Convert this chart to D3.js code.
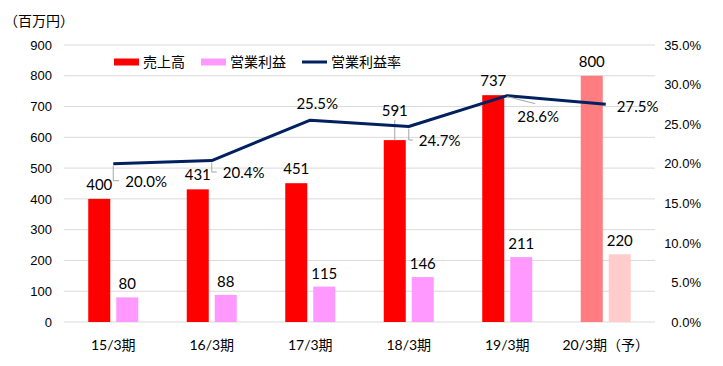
<!DOCTYPE html>
<html lang="ja">
<head>
  <meta charset="UTF-8">
  <title>売上高・営業利益</title>
  <script src="https://d3js.org/d3.v7.min.js"></script>
  <style>
    body {
      margin: 0;
      background: #fff;
      font-family: "Lato", "Noto Sans CJK JP", sans-serif;
    }
    .grid line { stroke: #d9d9d9; stroke-width: 1; }
    .tick-label { font-size: 13px; fill: #000; }
    .cat-label { font-size: 14px; fill: #000; }
    .data-label { font-size: 15px; fill: #000; }
    .leader { stroke: #a6a6a6; stroke-width: 1; fill: none; }
  </style>
</head>
<body>
  <svg id="chart" width="723" height="366"></svg>
  <script>
    const categories = ["15/3期", "16/3期", "17/3期", "18/3期", "19/3期", "20/3期（予）"];
    const sales = [400, 431, 451, 591, 737, 800];
    const profit = [80, 88, 115, 146, 211, 220];
    const margin = [0.200, 0.204, 0.255, 0.247, 0.286, 0.275];
    const leftTicks = [0, 100, 200, 300, 400, 500, 600, 700, 800, 900];
    const rightTicks = [0, 0.05, 0.10, 0.15, 0.20, 0.25, 0.30, 0.35];
    const forecastIndex = 5;

    // label placement tweaks (as laid out in the original)
    const pctLabelOffset = [
      { dx: 12, dy: 18, anchor: "start", leader: "elbow" },
      { dx: 11, dy: 12.5, anchor: "start", leader: "elbow" },
      { dx: 7, dy: -16, anchor: "middle", leader: null },
      { dx: 10, dy: 14.5, anchor: "start", leader: "elbow" },
      { dx: 10, dy: 21, anchor: "start", leader: "diag" },
      { dx: 11, dy: 2.5, anchor: "start", leader: null }
    ];
    const salesLabelLift = [0, 0, 0, 15, 0, 0];

    const colors = {
      sales: "#ff0000",
      profit: "#ff99ff",
      salesF: "#ff7c80",
      profitF: "#ffcccc",
      line: "#002060"
    };

    const svg = d3.select("#chart");
    const plot = { left: 64, right: 655, top: 45, bottom: 322 };

    const x = d3.scaleBand().domain(categories).range([plot.left, plot.right]);
    const y = d3.scaleLinear().domain([0, 900]).range([plot.bottom, plot.top]);
    const y2 = d3.scaleLinear().domain([0, 0.35]).range([plot.bottom, plot.top]);
    const cx = c => x(c) + x.bandwidth() / 2;
    const barW = 22;

    // gridlines
    svg.append("g").attr("class", "grid")
      .selectAll("line").data(leftTicks).join("line")
      .attr("x1", plot.left).attr("x2", plot.right)
      .attr("y1", d => y(d)).attr("y2", d => y(d));

    // left axis
    const leftAxis = svg.append("g")
      .attr("transform", `translate(${plot.left - 12},0)`)
      .call(d3.axisLeft(y).tickValues(leftTicks).tickSize(0).tickPadding(0));
    leftAxis.select(".domain").remove();
    leftAxis.selectAll("text").attr("class", "tick-label").attr("font-family", null);

    // right axis
    const rightAxis = svg.append("g")
      .attr("transform", `translate(701,0)`)
      .call(d3.axisLeft(y2).tickValues(rightTicks).tickFormat(d3.format(".1%")).tickSize(0).tickPadding(0));
    rightAxis.select(".domain").remove();
    rightAxis.selectAll("text").attr("class", "tick-label").attr("font-family", null);

    // unit
    svg.append("text").attr("x", 4).attr("y", 26)
      .attr("class", "cat-label").text("（百万円）");

    // bars
    svg.append("g").selectAll("rect").data(categories).join("rect")
      .attr("x", d => cx(d) - 25)
      .attr("y", (d, i) => y(sales[i]))
      .attr("width", barW)
      .attr("height", (d, i) => y(0) - y(sales[i]))
      .attr("fill", (d, i) => i === forecastIndex ? colors.salesF : colors.sales);

    svg.append("g").selectAll("rect").data(categories).join("rect")
      .attr("x", d => cx(d) + 3)
      .attr("y", (d, i) => y(profit[i]))
      .attr("width", barW)
      .attr("height", (d, i) => y(0) - y(profit[i]))
      .attr("fill", (d, i) => i === forecastIndex ? colors.profitF : colors.profit);

    // bar labels
    const lblG = svg.append("g");
    categories.forEach((c, i) => {
      const bx = cx(c) - 25 + barW / 2;
      const top = y(sales[i]);
      const ly = top - 9 - salesLabelLift[i];
      if (salesLabelLift[i] > 0) {
        lblG.append("line").attr("class", "leader")
          .attr("x1", bx).attr("x2", bx).attr("y1", ly + 4).attr("y2", top);
      }
      lblG.append("text").attr("class", "data-label")
        .attr("x", bx).attr("y", ly).attr("text-anchor", "middle").text(sales[i]);

      const px = cx(c) + 3 + barW / 2;
      lblG.append("text").attr("class", "data-label")
        .attr("x", px).attr("y", y(profit[i]) - 8).attr("text-anchor", "middle").text(profit[i]);
    });

    // margin line
    const line = d3.line().x((d, i) => cx(categories[i])).y(d => y2(d));
    svg.append("path").datum(margin)
      .attr("d", line)
      .attr("fill", "none")
      .attr("stroke", colors.line)
      .attr("stroke-width", 3)
      .attr("stroke-linejoin", "round");

    // margin labels
    const fmt = d3.format(".1%");
    margin.forEach((v, i) => {
      const px = cx(categories[i]);
      const py = y2(v);
      const o = pctLabelOffset[i];
      if (o.leader === "elbow") {
        svg.append("path").attr("class", "leader")
          .attr("d", `M${px},${py + 2}V${py + o.dy - 1}H${px + o.dx - 6}`);
      } else if (o.leader === "diag") {
        svg.append("path").attr("class", "leader")
          .attr("d", `M${px},${py + 1}L${px + 28},${py + 8}`);
      }
      svg.append("text").attr("class", "data-label")
        .attr("x", px + o.dx).attr("y", py + o.dy)
        .attr("dy", "0.35em")
        .attr("text-anchor", o.anchor)
        .text(fmt(v));
    });

    // category labels
    svg.append("g").selectAll("text").data(categories).join("text")
      .attr("class", "cat-label")
      .attr("x", d => cx(d)).attr("y", 350)
      .attr("text-anchor", "middle")
      .text(d => d);

    // legend
    const legend = svg.append("g").attr("transform", "translate(114,62)");
    const items = [
      { label: "売上高", type: "rect", color: colors.sales, x: 0 },
      { label: "営業利益", type: "rect", color: colors.profit, x: 87 },
      { label: "営業利益率", type: "line", color: colors.line, x: 188 }
    ];
    items.forEach(it => {
      const g = legend.append("g").attr("transform", `translate(${it.x},0)`);
      if (it.type === "rect") {
        g.append("rect").attr("x", 0).attr("y", -3.5).attr("width", 25).attr("height", 7).attr("fill", it.color);
      } else {
        g.append("line").attr("x1", 0).attr("x2", 25).attr("y1", 0).attr("y2", 0)
          .attr("stroke", it.color).attr("stroke-width", 3);
      }
      g.append("text").attr("class", "cat-label").attr("x", 29).attr("dy", "0.35em").text(it.label);
    });
  </script>
</body>
</html>
